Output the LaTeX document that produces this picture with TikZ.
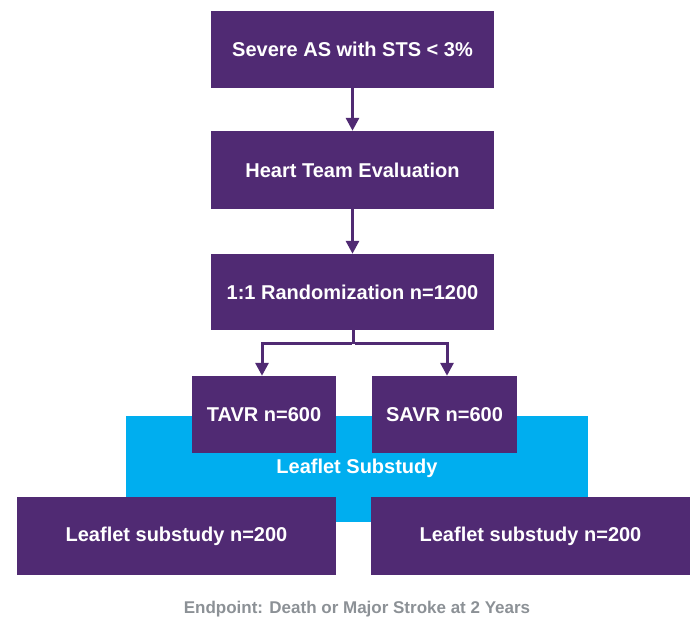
\documentclass[tikz,border=0pt]{standalone}
\usepackage{fontspec}
\setmainfont{Liberation Sans}
\usetikzlibrary{arrows.meta}
\definecolor{purp}{RGB}{80,42,115}
\definecolor{sky}{RGB}{0,174,239}
\definecolor{gtext}{RGB}{140,145,150}
\tikzset{
  pbox/.style={fill=purp, draw=none, inner sep=0pt, text=white, font=\fontsize{20}{22}\selectfont\bfseries},
  conn/.style={draw=purp, line width=3pt, -{Triangle[width=13pt,length=13pt]}},
  connplain/.style={draw=purp, line width=3pt}
}
\begin{document}
\begin{tikzpicture}[x=1pt,y=1pt]
\useasboundingbox (0,0) rectangle (695,617);
% blue substudy band
\node[fill=sky, minimum width=462pt, minimum height=106pt, inner sep=0pt] (band) at (357,148) {};
\node[text=white, font=\fontsize{20}{22}\selectfont\bfseries] (bandlbl) at (357,149) {Leaflet Substudy};
% main boxes
\node[pbox, minimum width=283pt, minimum height=77pt] (b1) at (352.5,567.5) {Severe AS with STS < 3\%};
\node[pbox, minimum width=283pt, minimum height=78pt] (b2) at (352.5,447) {Heart Team Evaluation};
\node[pbox, minimum width=283pt, minimum height=76pt] (b3) at (352.5,325) {1:1 Randomization n=1200};
\node[pbox, minimum width=144pt, minimum height=77pt] (tavr) at (264,202.5) {TAVR n=600};
\node[pbox, minimum width=145pt, minimum height=77pt] (savr) at (444.5,202.5) {SAVR n=600};
\node[pbox, minimum width=319pt, minimum height=78pt] (l1) at (176.5,81) {Leaflet substudy n=200};
\node[pbox, minimum width=319pt, minimum height=78pt] (l2) at (530.5,81) {Leaflet substudy n=200};
\node[text=gtext, font=\fontsize{17}{19}\selectfont\bfseries] (endp) at (357,8) {Endpoint: Death or Major Stroke at 2 Years};
% connectors
\draw[conn] (b1.south) -- (b2.north);
\draw[conn] (b2.south) -- (b3.north);
\coordinate (split) at (353,273);
\draw[connplain] (b3.south -| split) -- (split);
\draw[conn] ([xshift=-1.5pt]split) -| (tavr.north -| 262,0);
\draw[conn] ([xshift=1.5pt]split) -| (savr.north -| 447,0);
\end{tikzpicture}
\end{document}
